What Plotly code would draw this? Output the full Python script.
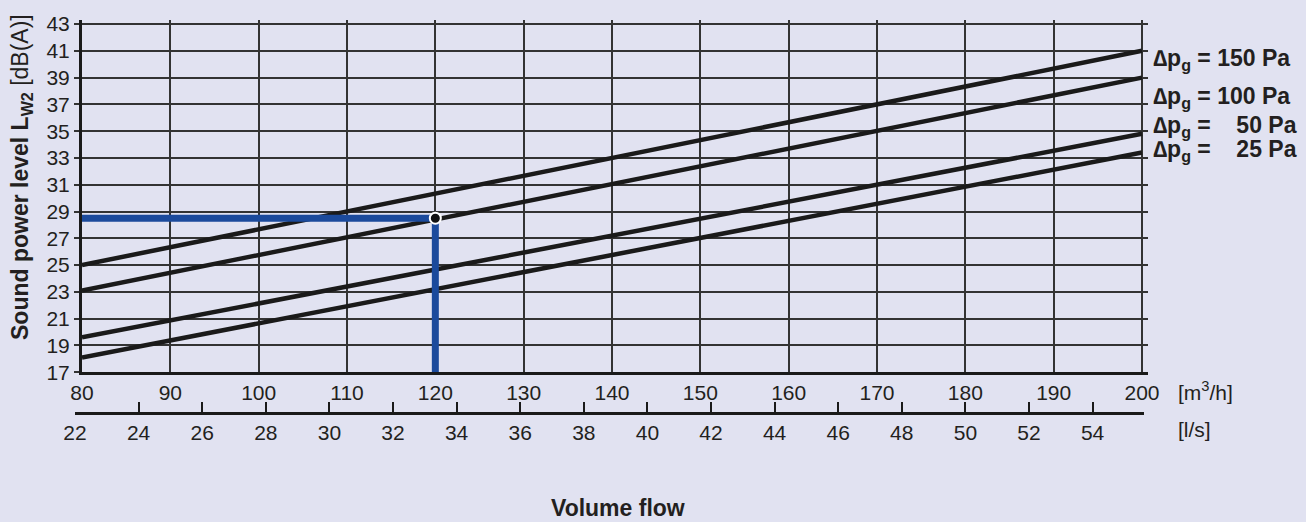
import plotly.graph_objects as go

# ---- data ----
flow_m3h = [80, 200]                       # volume flow [m3/h] (line end points)
series_names = ["150 Pa", "100 Pa", "50 Pa", "25 Pa"]
series_values = {
    "150 Pa": [25.0, 41.0],
    "100 Pa": [23.1, 39.0],
    "50 Pa": [19.6, 34.8],
    "25 Pa": [18.1, 33.4],
}
label_texts = {
    "150 Pa": "\u2206p<sub>g</sub> = 150 Pa",
    "100 Pa": "\u2206p<sub>g</sub> = 100 Pa",
    "50 Pa": "\u2206p<sub>g</sub> = \u2007 50 Pa",
    "25 Pa": "\u2206p<sub>g</sub> = \u2007 25 Pa",
}
op_flow = 120       # operating point volume flow [m3/h]
op_level = 28.5     # operating point sound power level [dB(A)]
x_ticks_m3h = list(range(80, 201, 10))
x_ticks_ls = list(range(22, 55, 2))
y_ticks = list(range(17, 44, 2))

# ---- style ----
BG = "#E1E2F1"
TXT = "#231F20"
FONT = "Liberation Sans, Arial, sans-serif"
BLUE = "#1B4A9C"

fig = go.Figure()

for name in series_names:
    fig.add_trace(go.Scatter(
        x=flow_m3h, y=series_values[name], mode="lines",
        line=dict(color="#1A1A1A", width=4.5), showlegend=False, hoverinfo="skip"))

fig.add_trace(go.Scatter(
    x=[flow_m3h[0], op_flow, op_flow], y=[op_level, op_level, y_ticks[0]],
    mode="lines", line=dict(color=BLUE, width=7), showlegend=False))
fig.add_trace(go.Scatter(
    x=[op_flow], y=[op_level], mode="markers",
    marker=dict(color="#111111", size=11, line=dict(color="white", width=2)),
    showlegend=False))

# dummy trace for secondary (l/s) axis
fig.add_trace(go.Scatter(x=[x_ticks_ls[0]], y=[0], xaxis="x2", yaxis="y2",
                         mode="markers", marker=dict(opacity=0), showlegend=False,
                         hoverinfo="skip"))

L, R, T, B = 75, 158, 15, 110
W, H = 1306, 522
pw = W - L - R
ph = H - T - B
px_per_m3h = (1148 - 82) / 120.68

fig.update_layout(
    width=W, height=H,
    margin=dict(l=L, r=R, t=T, b=B),
    paper_bgcolor=BG, plot_bgcolor=BG,
    font=dict(family=FONT, color=TXT, size=21),
    xaxis=dict(
        domain=[(82 - L) / pw, 1],
        range=[80, 200.68],
        tickvals=x_ticks_m3h, ticktext=[str(v) for v in x_ticks_m3h],
        showgrid=True, gridcolor="#333333", gridwidth=1.5,
        showline=True, linecolor="#1A1A1A", linewidth=3,
        ticks="", zeroline=False, anchor="y",
        tickfont=dict(size=21),
    ),
    yaxis=dict(
        domain=[(412 - 371.7) / ph, 1],
        range=[17, 43.3],
        tickvals=y_ticks, ticktext=[str(v) for v in y_ticks],
        showgrid=True, gridcolor="#333333", gridwidth=1.5,
        showline=True, linecolor="#1A1A1A", linewidth=3,
        ticks="outside", ticklen=5, tickcolor="#333333", tickwidth=1.5,
        zeroline=False, anchor="x",
        tickfont=dict(size=21),
    ),
    xaxis2=dict(
        domain=[0, (1144 - L) / pw],
        range=[22, 22 + 1069 / (px_per_m3h * 3.6)],
        tickvals=x_ticks_ls, ticktext=[str(v) for v in x_ticks_ls],
        showgrid=False, showline=True, linecolor="#1A1A1A", linewidth=2.5,
        ticks="inside", ticklen=10, tickcolor="#1A1A1A", tickwidth=1.5,
        zeroline=False, anchor="y2", side="bottom",
        tickfont=dict(size=21),
    ),
    yaxis2=dict(domain=[0, 0.02], visible=False, range=[0, 1], anchor="x2"),
)

def py_to_paper(py):
    return (T + ph - py) / ph

def px_to_paper(px):
    return (px - L) / pw

ann = []
# y axis title
ann.append(dict(
    text="<b>Sound power level L<sub>W2</sub></b> [dB(A)]",
    x=px_to_paper(22), y=py_to_paper(174), xref="paper", yref="paper",
    textangle=-90, showarrow=False, xanchor="center", yanchor="middle",
    font=dict(size=23)))
# x axis title
ann.append(dict(
    text="<b>Volume flow</b>", x=px_to_paper(618), y=py_to_paper(509),
    xref="paper", yref="paper", showarrow=False, xanchor="center",
    yanchor="middle", font=dict(size=23)))
# unit labels
ann.append(dict(text="[m<sup>3</sup>/h]", x=px_to_paper(1176), y=py_to_paper(391),
                xref="paper", yref="paper", showarrow=False, xanchor="left",
                yanchor="middle", font=dict(size=21)))
ann.append(dict(text="[l/s]", x=px_to_paper(1176), y=py_to_paper(430),
                xref="paper", yref="paper", showarrow=False, xanchor="left",
                yanchor="middle", font=dict(size=21)))
# series labels
label_py = {"150 Pa": 55, "100 Pa": 93, "50 Pa": 123, "25 Pa": 147}
for name in series_names:
    ann.append(dict(text="<b>" + label_texts[name] + "</b>",
                    x=px_to_paper(1151), y=py_to_paper(label_py[name]),
                    xref="paper", yref="paper", showarrow=False,
                    xanchor="left", yanchor="middle", font=dict(size=23)))

fig.update_layout(annotations=ann)
fig.write_html(
    "out.html",
    config={"displayModeBar": False},
    post_script="document.body.style.margin='0';document.body.style.background='%s';" % BG,
)
